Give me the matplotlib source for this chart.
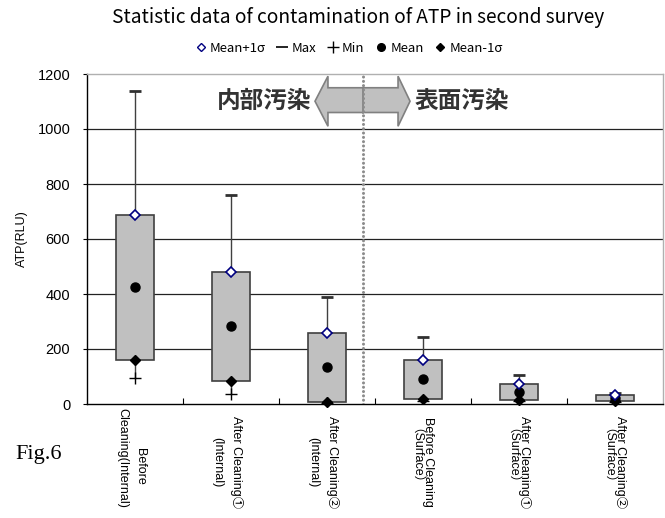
import matplotlib
matplotlib.use("Agg")
import matplotlib.pyplot as plt
from matplotlib.lines import Line2D
from matplotlib.patches import Polygon
import numpy as np

categories = ["Before\nCleaning(Internal)", "After Cleaning①\n(Internal)", "After Cleaning②\n(Internal)",
              "Before Cleaning\n（Surface）", "After Cleaning①\n（Surface）", "After Cleaning②\n（Surface）"]
max_vals = [1139, 759, 389, 245, 106, 41]
mean_plus = [688, 480, 258, 160, 72, 33]
mean_vals = [425, 284, 134, 91, 43, 21]
mean_minus = [160, 85, 8, 17, 15, 10]
min_vals = [95, 35, 2, 12, 10, 6]
yticks = [0, 200, 400, 600, 800, 1000, 1200]

fig = plt.figure(figsize=(6.65, 5.18), dpi=100)
ax = fig.add_axes([87/665, 1-404/518, 576/665, 330/518])
x = np.arange(len(categories))

for yv in yticks[1:-1]:
    ax.axhline(yv, color="#222222", lw=0.9, zorder=0)

ax.vlines(x, min_vals, max_vals, color="#404040", lw=1.0, zorder=1)
ax.bar(x, np.array(mean_plus) - np.array(mean_minus), bottom=mean_minus, width=0.4,
       color="#c0c0c0", edgecolor="#404040", lw=1.2, zorder=2)
ax.plot(x, max_vals, ls="none", marker="_", ms=8, mew=2, color="#303030", zorder=3)
ax.plot(x, min_vals, ls="none", marker="+", ms=8, mew=1, color="black", zorder=3)
ax.plot(x, mean_vals, ls="none", marker="o", ms=6.5, color="black", zorder=4)
ax.plot(x, mean_minus, ls="none", marker="D", ms=5.5, color="black", zorder=4, clip_on=False)
ax.plot(x, mean_plus, ls="none", marker="D", ms=5, mfc="white", mec="#000080", mew=1.2, zorder=5)

# separator & arrow
sep = 2.375
ax.axvline(sep, color="#8c8c8c", lw=2.2, ls=(0, (0.01, 1.4)), dash_capstyle="round", zorder=6)
arrow = [(1.875, 1101), (2.01, 1192), (2.01, 1150), (2.74, 1150), (2.74, 1192), (2.865, 1101),
         (2.74, 1010), (2.74, 1060), (2.01, 1060), (2.01, 1010)]
ax.add_patch(Polygon(arrow, closed=True, facecolor="#c0c0c0", edgecolor="#808080", lw=1.2, zorder=5))
ax.plot([sep, sep], [1060, 1150], color="#808080", lw=1.2, zorder=5)
ax.text(1.84, 1101, "内部汚染", ha="right", va="center", fontsize=17, fontweight="bold",
        color="#333333", family=["Noto Sans CJK JP"], zorder=7)
ax.text(2.91, 1101, "表面汚染", ha="left", va="center", fontsize=17, fontweight="bold",
        color="#333333", family=["Noto Sans CJK JP"], zorder=7)

ax.set_xlim(-0.5, 5.5)
ax.set_ylim(0, 1200)
ax.set_yticks(yticks)
ax.set_yticklabels([str(v) for v in yticks], fontsize=10.5, family=["Liberation Sans"])
ax.tick_params(axis="y", direction="out", length=3, width=0.8, pad=9)
ax.set_xticks(np.arange(0.5, 5.5, 1.0))
ax.set_xticklabels([])
ax.tick_params(axis="x", direction="in", length=4, width=0.8)
for i, lab in enumerate(categories):
    lines = lab.split("\n")
    offs = [(5, -42), (-8.5, -42)] if i > 0 else [(4.5, -45), (-8, -39)]
    for line, (dx, dy) in zip(lines, offs):
        ax.annotate(line, xy=(i, 0), xycoords=("data", "axes fraction"), xytext=(dx, dy),
                    textcoords="offset points", rotation=-90, rotation_mode="anchor",
                    ha="center", va="center_baseline",
                    fontsize=9, family=["Liberation Sans", "Noto Sans CJK JP"], annotation_clip=False)
ax.set_ylabel("ATP(RLU)", fontsize=9, family=["Liberation Sans"], labelpad=7)

for s in ["left", "bottom"]:
    ax.spines[s].set_color("black")
    ax.spines[s].set_linewidth(1.0)
for s in ["top", "right"]:
    ax.spines[s].set_color("#b0b0b0")
    ax.spines[s].set_linewidth(1.0)

fig.text(358/665, 1-18/518, "Statistic data of contamination of ATP in second survey",
         ha="center", va="center", fontsize=13.8, family=["Noto Sans CJK JP"])

handles = [
    Line2D([], [], ls="none", marker="D", ms=4.5, mfc="white", mec="#000080", mew=1),
    Line2D([], [], ls="none", marker="_", ms=8, mew=1.2, color="black"),
    Line2D([], [], ls="none", marker="+", ms=8, mew=1, color="black"),
    Line2D([], [], ls="none", marker="o", ms=5.5, color="black"),
    Line2D([], [], ls="none", marker="D", ms=4.5, color="black"),
]
labels = ["Mean+1σ", "Max", "Min", "Mean", "Mean-1σ"]
fig.legend(handles, labels, loc="center", bbox_to_anchor=(348/665, 1-48/518), ncol=5, frameon=False,
           handletextpad=0.15, columnspacing=0.7, handlelength=1.1,
           prop={"family": ["Noto Sans CJK JP"], "size": 9.5})

fig.text(15/665, 1-455/518, "Fig.6", ha="left", va="center", fontsize=16, family=["Liberation Serif"])

fig.savefig("out.png", dpi=100)
